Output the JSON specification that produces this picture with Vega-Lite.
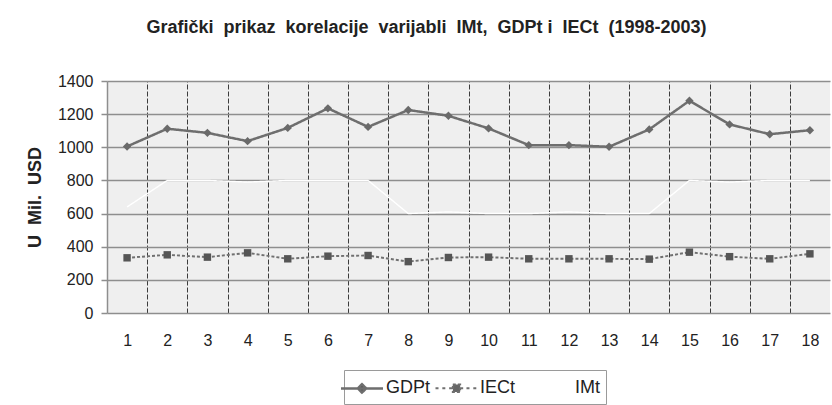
{
  "$schema": "https://vega.github.io/schema/vega-lite/v6.json",
  "width": 723,
  "height": 232,
  "autosize": "none",
  "padding": {"left": 107, "top": 81, "right": 2, "bottom": 92},
  "background": "white",
  "title": {
    "text": "Grafički\u00a0 prikaz\u00a0 korelacije\u00a0 varijabli\u00a0 IMt,\u00a0 GDPt i\u00a0 IECt\u00a0 (1998-2003)",
    "font": "Liberation Sans",
    "fontSize": 18,
    "fontWeight": "bold",
    "color": "#222222",
    "anchor": "middle",
    "dx": -42,
    "dy": 10,
    "baseline": "alphabetic",
    "offset": 32
  },
  "config": {
    "view": {"fill": "#efefef", "stroke": null},
    "font": "Liberation Sans",
    "axisY": {
      "values": [0,200,400,600,800,1000,1200,1400],
      "format": "d",
      "labelOverlap": false,
      "grid": true, "gridColor": "#8e8e8e", "gridWidth": 1.5,
      "domain": true, "domainColor": "#8e8e8e", "domainWidth": 1.5,
      "ticks": true, "tickSize": 6, "tickColor": "#8e8e8e", "tickWidth": 1.5,
      "labelFont": "Liberation Sans", "labelFontSize": 16, "labelColor": "#222222",
      "labelPadding": 8,
      "titleFont": "Liberation Sans", "titleFontSize": 18, "titleFontWeight": "bold",
      "titleColor": "#222222", "titlePadding": 13
    }
  },
  "data": {
    "values": [
      {"x": 1, "series": "GDPt", "value": 1005},
      {"x": 2, "series": "GDPt", "value": 1112},
      {"x": 3, "series": "GDPt", "value": 1087},
      {"x": 4, "series": "GDPt", "value": 1037},
      {"x": 5, "series": "GDPt", "value": 1117},
      {"x": 6, "series": "GDPt", "value": 1235},
      {"x": 7, "series": "GDPt", "value": 1123},
      {"x": 8, "series": "GDPt", "value": 1225},
      {"x": 9, "series": "GDPt", "value": 1190},
      {"x": 10, "series": "GDPt", "value": 1114},
      {"x": 11, "series": "GDPt", "value": 1013},
      {"x": 12, "series": "GDPt", "value": 1013},
      {"x": 13, "series": "GDPt", "value": 1003},
      {"x": 14, "series": "GDPt", "value": 1108},
      {"x": 15, "series": "GDPt", "value": 1281},
      {"x": 16, "series": "GDPt", "value": 1138},
      {"x": 17, "series": "GDPt", "value": 1079},
      {"x": 18, "series": "GDPt", "value": 1103},
      {"x": 1, "series": "IECt", "value": 333},
      {"x": 2, "series": "IECt", "value": 351},
      {"x": 3, "series": "IECt", "value": 337},
      {"x": 4, "series": "IECt", "value": 363},
      {"x": 5, "series": "IECt", "value": 327},
      {"x": 6, "series": "IECt", "value": 343},
      {"x": 7, "series": "IECt", "value": 347},
      {"x": 8, "series": "IECt", "value": 310},
      {"x": 9, "series": "IECt", "value": 335},
      {"x": 10, "series": "IECt", "value": 337},
      {"x": 11, "series": "IECt", "value": 327},
      {"x": 12, "series": "IECt", "value": 327},
      {"x": 13, "series": "IECt", "value": 327},
      {"x": 14, "series": "IECt", "value": 325},
      {"x": 15, "series": "IECt", "value": 367},
      {"x": 16, "series": "IECt", "value": 340},
      {"x": 17, "series": "IECt", "value": 327},
      {"x": 18, "series": "IECt", "value": 357},
      {"x": 1, "series": "IMt", "value": 640},
      {"x": 2, "series": "IMt", "value": 800},
      {"x": 3, "series": "IMt", "value": 800},
      {"x": 4, "series": "IMt", "value": 790},
      {"x": 5, "series": "IMt", "value": 800},
      {"x": 6, "series": "IMt", "value": 800},
      {"x": 7, "series": "IMt", "value": 800},
      {"x": 8, "series": "IMt", "value": 600},
      {"x": 9, "series": "IMt", "value": 610},
      {"x": 10, "series": "IMt", "value": 600},
      {"x": 11, "series": "IMt", "value": 600},
      {"x": 12, "series": "IMt", "value": 610},
      {"x": 13, "series": "IMt", "value": 600},
      {"x": 14, "series": "IMt", "value": 600},
      {"x": 15, "series": "IMt", "value": 800},
      {"x": 16, "series": "IMt", "value": 790},
      {"x": 17, "series": "IMt", "value": 800},
      {"x": 18, "series": "IMt", "value": 800}
    ]
  },
  "resolve": {"axis": {"x": "independent"}},
  "layer": [
    {
      "mark": {"type": "line", "strokeJoin": "round"},
      "encoding": {
        "x": {
          "field": "x", "type": "quantitative",
          "scale": {"domain": [0.5, 18.5], "nice": false, "zero": false},
          "axis": {
            "orient": "bottom",
            "values": [1,2,3,4,5,6,7,8,9,10,11,12,13,14,15,16,17,18],
            "grid": false, "ticks": false, "domain": false, "title": null,
            "labelFont": "Liberation Sans", "labelFontSize": 16, "labelColor": "#222222",
            "labelPadding": 19
          }
        },
        "y": {
          "field": "value", "type": "quantitative",
          "title": "U\u00a0 Mil.\u00a0 USD",
          "scale": {"domain": [0, 1400], "nice": false}
        },
        "color": {
          "field": "series", "type": "nominal",
          "scale": {"domain": ["GDPt", "IECt", "IMt"], "range": ["#6e6e6e", "#707070", "#ffffff"]},
          "legend": {
            "title": null,
            "orient": "none",
            "legendX": 237,
            "legendY": 289,
            "direction": "horizontal",
            "padding": 6,
            "strokeColor": "#9a9a9a",
            "fillColor": "#ffffff",
            "gridAlign": "all",
            "columnPadding": 0,
            "symbolSize": 441,
            "labelOffset": 12,
            "labelFont": "Liberation Sans",
            "labelFontSize": 18,
            "labelColor": "#222222",
            "encode": {
              "symbols": {
                "update": {
                  "shape": {"signal": "datum.value === 'GDPt' ? 'M-2,0H2M0,-0.4L0.4,0L0,0.4L-0.4,0Z' : datum.value === 'IECt' ? 'M-2,0H-1.6M-1.35,0H-0.95M-0.7,0H-0.35M0.35,0H0.7M0.95,0H1.35M1.6,0H2M-0.35,-0.35H0.35V0.35H-0.35Z' : 'M-2,0H2'"},
                  "fill": {"signal": "datum.value === 'GDPt' ? '#555555' : datum.value === 'IECt' ? '#666666' : 'transparent'"},
                  "stroke": {"signal": "datum.value === 'IMt' ? '#ffffff' : '#444444'"},
                  "strokeWidth": {"signal": "datum.value === 'GDPt' ? 2 : 1.3"},
                  "opacity": {"value": 1}
                }
              }
            }
          }
        },
        "strokeDash": {
          "field": "series", "type": "nominal",
          "scale": {"domain": ["GDPt", "IECt", "IMt"], "range": [[1, 0], [3, 2], [1, 0]]},
          "legend": null
        },
        "strokeWidth": {
          "field": "series", "type": "nominal",
          "scale": {"domain": ["GDPt", "IECt", "IMt"], "range": [2.5, 1.4, 2]},
          "legend": null
        }
      }
    },
    {
      "transform": [{"filter": "datum.series === 'GDPt'"}],
      "mark": {"type": "point", "shape": "diamond", "filled": true, "size": 70, "color": "#6a6a6a", "opacity": 1},
      "encoding": {
        "x": {
          "field": "x", "type": "quantitative",
          "scale": {"domain": [0.5, 18.5], "nice": false, "zero": false},
          "axis": {
            "orient": "top",
            "values": [1.5,2.5,3.5,4.5,5.5,6.5,7.5,8.5,9.5,10.5,11.5,12.5,13.5,14.5,15.5,16.5,17.5],
            "grid": true, "gridColor": "#3c3c3c", "gridDash": [5, 2], "gridWidth": 1,
            "labels": false, "ticks": false, "domain": false, "title": null
          }
        },
        "y": {
          "field": "value", "type": "quantitative",
          "title": "U\u00a0 Mil.\u00a0 USD",
          "scale": {"domain": [0, 1400], "nice": false}
        }
      }
    },
    {
      "transform": [{"filter": "datum.series === 'IECt'"}],
      "mark": {"type": "point", "shape": "square", "filled": true, "size": 55, "color": "#555555", "opacity": 1},
      "encoding": {
        "x": {
          "field": "x", "type": "quantitative",
          "scale": {"domain": [0.5, 18.5], "nice": false, "zero": false},
          "axis": null
        },
        "y": {
          "field": "value", "type": "quantitative",
          "title": "U\u00a0 Mil.\u00a0 USD",
          "scale": {"domain": [0, 1400], "nice": false}
        }
      }
    }
  ]
}
